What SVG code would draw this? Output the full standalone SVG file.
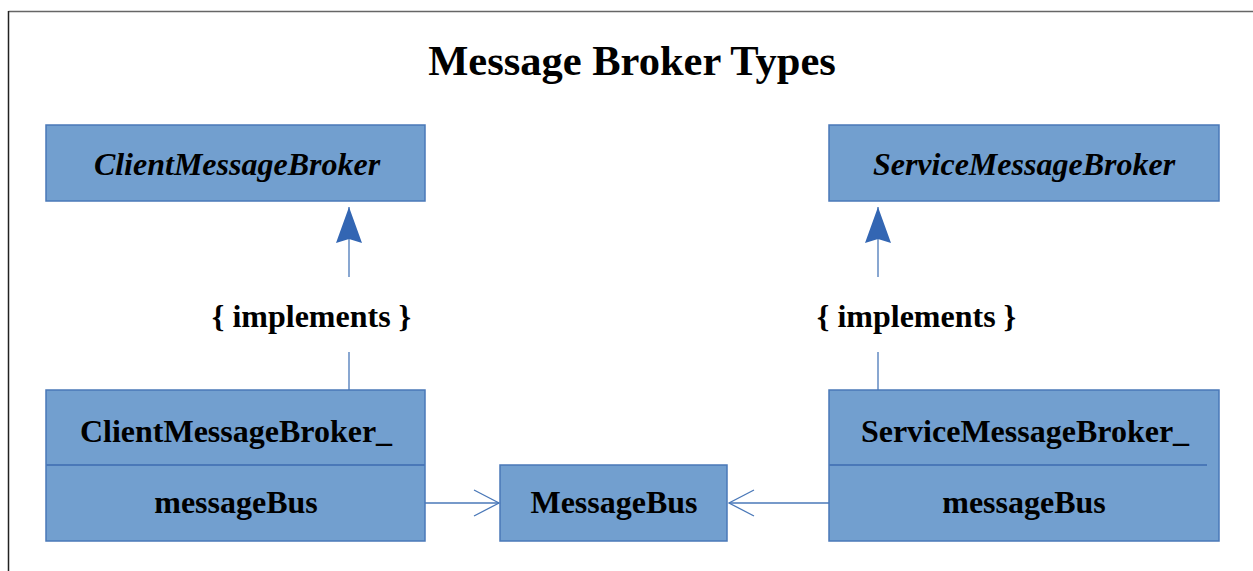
<svg xmlns="http://www.w3.org/2000/svg" width="1253" height="571" viewBox="0 0 1253 571">
<style>
.box{fill:#729fcf;stroke:#4a78b8;stroke-width:1.5}
.div{stroke:#4a78b8;stroke-width:2}
.t{font-family:"Liberation Serif","Times New Roman",serif;font-weight:bold;fill:#000;text-anchor:middle;font-size:32px}
.it{font-style:italic}
.ln{stroke:#4a78b8;stroke-width:1.3;fill:none}
</style>
<defs>
<marker id="tri" markerWidth="30" markerHeight="40" refX="13" refY="0" markerUnits="userSpaceOnUse" orient="0" overflow="visible">
<path d="M13,0 L26,36 L13,32 L0,36 Z" fill="#3366b3"/>
</marker>
</defs>
<rect width="1253" height="571" fill="#fff"/>
<path d="M1253,11.5 H8.5" fill="none" stroke="#666" stroke-width="1.5"/>
<path d="M8.5,571 V11" fill="none" stroke="#222" stroke-width="1.5"/>
<text class="t" x="632" y="75" style="font-size:42.5px">Message Broker Types</text>
<g id="clientMessageBroker">
<rect class="box" x="46" y="125" width="379" height="76"/>
<text class="t it" x="237" y="175">ClientMessageBroker</text>
</g>
<g id="serviceMessageBroker">
<rect class="box" x="829" y="125" width="390" height="76"/>
<text class="t it" x="1024" y="175">ServiceMessageBroker</text>
</g>
<g id="clientMessageBrokerImpl">
<rect class="box" x="46" y="390" width="379" height="151"/>
<line class="div" x1="46" y1="465" x2="425" y2="465"/>
<text class="t" x="236" y="442">ClientMessageBroker_</text>
<text class="t" x="236" y="513">messageBus</text>
</g>
<g id="serviceMessageBrokerImpl">
<rect class="box" x="829" y="390" width="390" height="151"/>
<line class="div" x1="829" y1="465" x2="1207" y2="465"/>
<text class="t" x="1025" y="442">ServiceMessageBroker_</text>
<text class="t" x="1024" y="513">messageBus</text>
</g>
<g id="messageBus">
<rect class="box" x="500" y="465" width="227" height="76"/>
<text class="t" x="614" y="513">MessageBus</text>
</g>
<g id="connectors">
<line class="ln" x1="349" y1="277" x2="349" y2="207" marker-end="url(#tri)"/>
<line class="ln" x1="349" y1="352" x2="349" y2="390"/>
<text class="t" x="311.5" y="327">{ implements }</text>
<line class="ln" x1="878" y1="277" x2="878" y2="207" marker-end="url(#tri)"/>
<line class="ln" x1="878" y1="352" x2="878" y2="390"/>
<text class="t" x="916.5" y="327">{ implements }</text>
<line class="ln" x1="425" y1="503" x2="499" y2="503"/>
<path class="ln" d="M474,490 L499,503 L474,516" stroke-width="2"/>
<line class="ln" x1="829" y1="503" x2="729" y2="503"/>
<path class="ln" d="M754,490 L729,503 L754,516" stroke-width="2"/>
</g>
</svg>
